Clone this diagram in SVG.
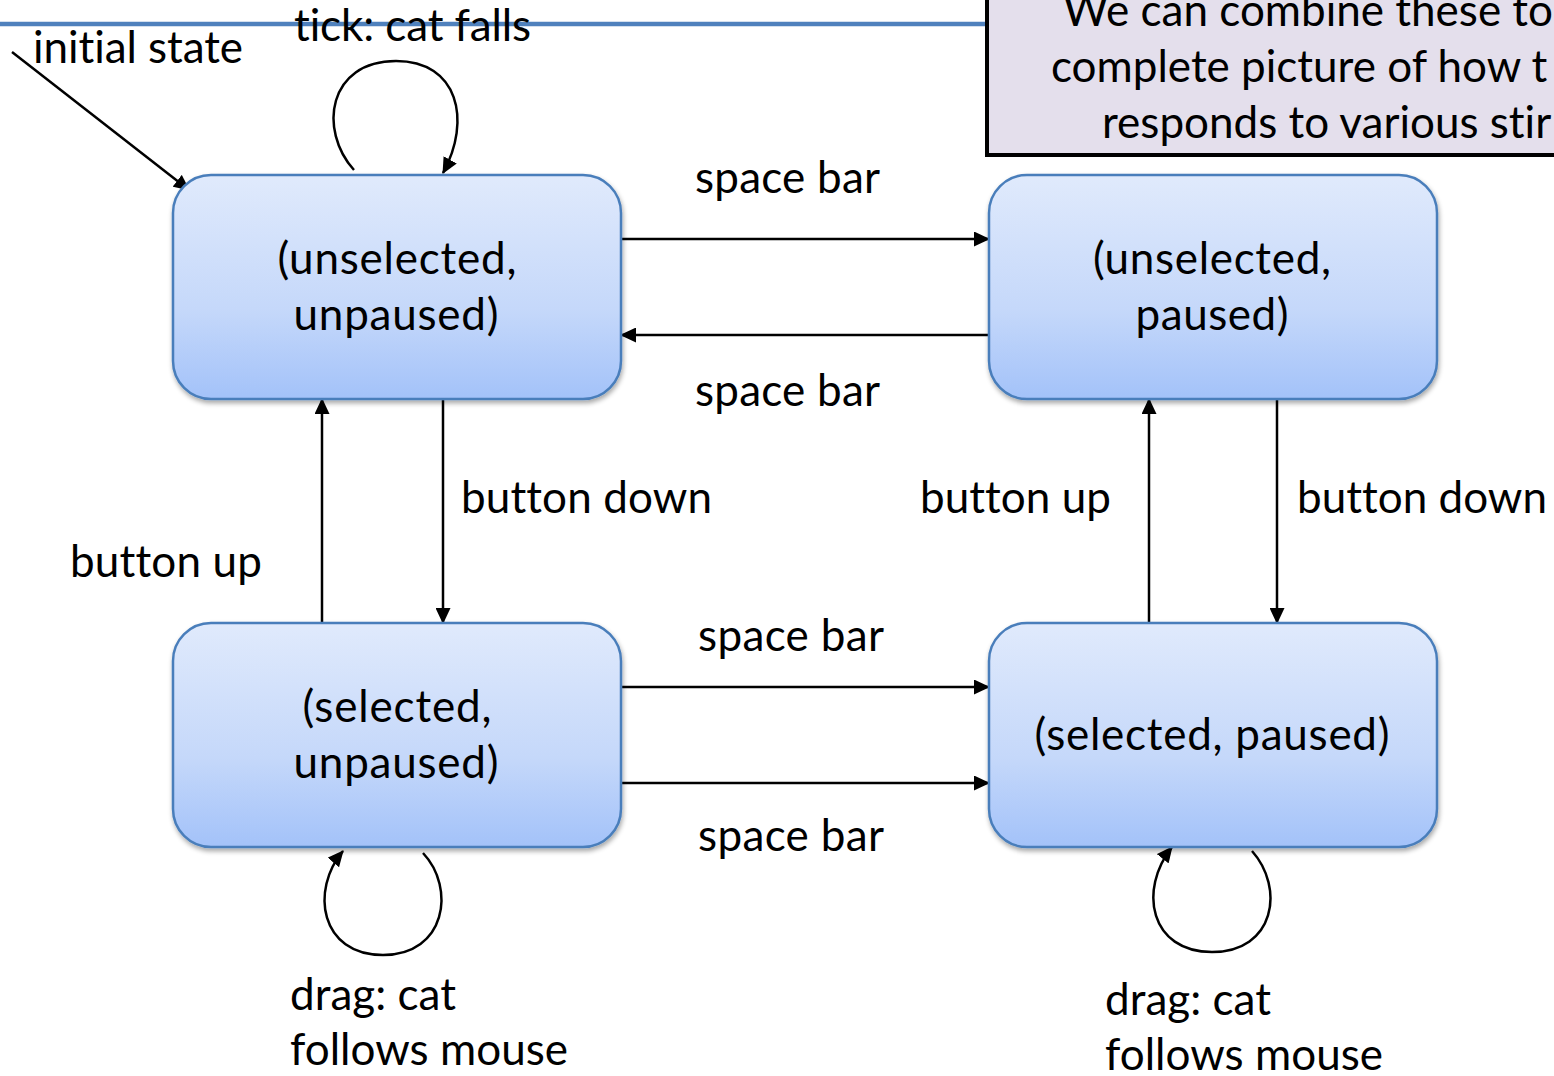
<svg xmlns="http://www.w3.org/2000/svg" width="1554" height="1076" viewBox="0 0 1554 1076">
<style>
text{font-family:Lato,"Liberation Sans",sans-serif;font-size:44px;fill:#000;font-variant-ligatures:none;font-feature-settings:"liga" 0}
.node rect{fill:url(#g);stroke:#4A7EBB;stroke-width:2.5;filter:url(#sh)}
.mid{text-anchor:middle}
#connectors path{fill:none;stroke:#000;stroke-width:2.5;marker-end:url(#ah)}
</style>
<defs>
<linearGradient id="g" x1="0" y1="0" x2="0" y2="1">
<stop offset="0" stop-color="#E0EAFC"/>
<stop offset="0.6" stop-color="#C5D8FA"/>
<stop offset="1" stop-color="#A3C2F9"/>
</linearGradient>
<filter id="sh" x="-10%" y="-10%" width="125%" height="130%">
<feGaussianBlur in="SourceAlpha" stdDeviation="2.5"/>
<feOffset dx="1" dy="3" result="b"/>
<feComponentTransfer><feFuncA type="linear" slope="0.35"/></feComponentTransfer>
<feMerge><feMergeNode/><feMergeNode in="SourceGraphic"/></feMerge>
</filter>
<marker id="ah" viewBox="0 0 16 15" refX="15" refY="7.5" markerWidth="16" markerHeight="15" markerUnits="userSpaceOnUse" orient="auto">
<path d="M0,0 L16,7.5 L0,15 z" fill="#000"/>
</marker>
</defs>
<rect width="1554" height="1076" fill="#fff"/>
<line x1="0" y1="24" x2="988" y2="24" stroke="#4F81BD" stroke-width="4.5"/>
<g id="callout">
<rect x="987" y="-10" width="600" height="165" fill="#E4DFEC" stroke="#000" stroke-width="4"/>
<text x="1063" y="26">We can combine these to</text>
<text x="1051" y="82">complete picture of how t</text>
<text x="1102" y="138">responds to various stir</text>
</g>
<g id="connectors">
<path d="M12,52 L189,190"/>
<path d="M354,170 C318,130 328,61 396,61 C458,61 472,120 443,173"/>
<path d="M621,239 L989,239"/>
<path d="M989,335 L621,335"/>
<path d="M443,399 L443,623"/>
<path d="M322,623 L322,399"/>
<path d="M1277,399 L1277,623"/>
<path d="M1149,623 L1149,399"/>
<path d="M621,687 L989,687"/>
<path d="M621,783 L989,783"/>
<path d="M423,853 C456,888 446,955 383,955 C320,955 310,890 343,851"/>
<path d="M1252,851 C1285,888 1275,952 1212,952 C1150,952 1138,890 1172,847"/>
</g>
<g id="labels">
<text x="33" y="63" textLength="210">initial state</text>
<text x="294" y="41" textLength="237">tick: cat falls</text>
<text x="695" y="193" textLength="185">space bar</text>
<text x="695" y="406" textLength="185">space bar</text>
<text x="461" y="513" textLength="251">button down</text>
<text x="70" y="577" textLength="192">button up</text>
<text x="920" y="513" textLength="191">button up</text>
<text x="1297" y="513" textLength="250">button down</text>
<text x="698" y="651" textLength="186">space bar</text>
<text x="698" y="851" textLength="186">space bar</text>
<text x="290" y="1010" textLength="166">drag: cat</text>
<text x="290" y="1065" textLength="278">follows mouse</text>
<text x="1105" y="1015" textLength="166">drag: cat</text>
<text x="1105" y="1070" textLength="278">follows mouse</text>
</g>
<g id="n1" class="node">
<rect x="173" y="175" width="448" height="224" rx="38"/>
<text class="mid" x="397" y="274" textLength="239">(unselected,</text>
<text class="mid" x="396" y="330" textLength="205">unpaused)</text>
</g>
<g id="n2" class="node">
<rect x="989" y="175" width="448" height="224" rx="38"/>
<text class="mid" x="1212" y="274" textLength="238">(unselected,</text>
<text class="mid" x="1212" y="330" textLength="153">paused)</text>
</g>
<g id="n3" class="node">
<rect x="173" y="623" width="448" height="224" rx="38"/>
<text class="mid" x="397" y="722" textLength="189">(selected,</text>
<text class="mid" x="396" y="778" textLength="205">unpaused)</text>
</g>
<g id="n4" class="node">
<rect x="989" y="623" width="448" height="224" rx="38"/>
<text class="mid" x="1212" y="750" textLength="355">(selected, paused)</text>
</g>
</svg>
